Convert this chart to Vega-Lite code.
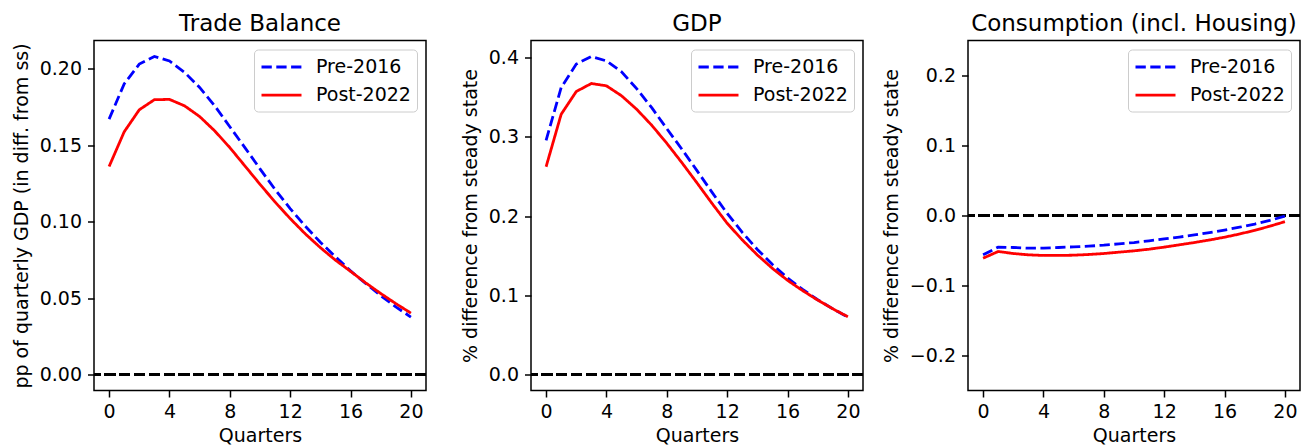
{
  "$schema": "https://vega.github.io/schema/vega-lite/v6.json",
  "padding": {"left": 12, "top": 11.5, "right": 0, "bottom": 0},
  "background": "white",
  "config": {
    "font": "DejaVu Sans",
    "view": {"stroke": "black", "strokeWidth": 1.5},
    "axis": {"domain": false, "grid": false, "labelFont": "DejaVu Sans", "labelFontSize": 19, "labelColor": "black", "titleFont": "DejaVu Sans", "titleFontSize": 19, "titleFontWeight": "normal", "titleColor": "black", "tickColor": "black", "tickWidth": 1.5, "tickSize": 6.5},
    "axisX": {"labelPadding": 5.4, "titlePadding": 4.8, "labelFlush": false, "labelOverlap": false},
    "axisY": {"labelPadding": 6, "titlePadding": 7.4, "labelOverlap": false},
    "title": {"font": "DejaVu Sans", "fontSize": 23, "fontWeight": "normal", "color": "black", "frame": "group", "baseline": "alphabetic", "offset": 4.8, "anchor": "middle"}
  },
  "datasets": {
    "tb": [
      {"q":0,"series":"Pre-2016","value":0.167},{"q":1,"series":"Pre-2016","value":0.190},{"q":2,"series":"Pre-2016","value":0.203},{"q":3,"series":"Pre-2016","value":0.208},{"q":4,"series":"Pre-2016","value":0.205},{"q":5,"series":"Pre-2016","value":0.1976},{"q":6,"series":"Pre-2016","value":0.1877},{"q":7,"series":"Pre-2016","value":0.1757},{"q":8,"series":"Pre-2016","value":0.162},{"q":9,"series":"Pre-2016","value":0.1484},{"q":10,"series":"Pre-2016","value":0.1345},{"q":11,"series":"Pre-2016","value":0.121},{"q":12,"series":"Pre-2016","value":0.1085},{"q":13,"series":"Pre-2016","value":0.097},{"q":14,"series":"Pre-2016","value":0.0865},{"q":15,"series":"Pre-2016","value":0.077},{"q":16,"series":"Pre-2016","value":0.0678},{"q":17,"series":"Pre-2016","value":0.0596},{"q":18,"series":"Pre-2016","value":0.0516},{"q":19,"series":"Pre-2016","value":0.0443},{"q":20,"series":"Pre-2016","value":0.0376},
      {"q":0,"series":"Post-2022","value":0.136},{"q":1,"series":"Post-2022","value":0.1587},{"q":2,"series":"Post-2022","value":0.1731},{"q":3,"series":"Post-2022","value":0.1797},{"q":4,"series":"Post-2022","value":0.1799},{"q":5,"series":"Post-2022","value":0.1757},{"q":6,"series":"Post-2022","value":0.1687},{"q":7,"series":"Post-2022","value":0.1593},{"q":8,"series":"Post-2022","value":0.1484},{"q":9,"series":"Post-2022","value":0.1364},{"q":10,"series":"Post-2022","value":0.1244},{"q":11,"series":"Post-2022","value":0.1128},{"q":12,"series":"Post-2022","value":0.102},{"q":13,"series":"Post-2022","value":0.092},{"q":14,"series":"Post-2022","value":0.083},{"q":15,"series":"Post-2022","value":0.0748},{"q":16,"series":"Post-2022","value":0.0675},{"q":17,"series":"Post-2022","value":0.06},{"q":18,"series":"Post-2022","value":0.053},{"q":19,"series":"Post-2022","value":0.0464},{"q":20,"series":"Post-2022","value":0.0402}
    ],
    "gdp": [
      {"q":0,"series":"Pre-2016","value":0.2958},{"q":1,"series":"Pre-2016","value":0.3624},{"q":2,"series":"Pre-2016","value":0.392},{"q":3,"series":"Pre-2016","value":0.4017},{"q":4,"series":"Pre-2016","value":0.396},{"q":5,"series":"Pre-2016","value":0.3823},{"q":6,"series":"Pre-2016","value":0.361},{"q":7,"series":"Pre-2016","value":0.337},{"q":8,"series":"Pre-2016","value":0.3105},{"q":9,"series":"Pre-2016","value":0.2845},{"q":10,"series":"Pre-2016","value":0.2575},{"q":11,"series":"Pre-2016","value":0.23},{"q":12,"series":"Pre-2016","value":0.2035},{"q":13,"series":"Pre-2016","value":0.1795},{"q":14,"series":"Pre-2016","value":0.158},{"q":15,"series":"Pre-2016","value":0.139},{"q":16,"series":"Pre-2016","value":0.122},{"q":17,"series":"Pre-2016","value":0.1075},{"q":18,"series":"Pre-2016","value":0.0945},{"q":19,"series":"Pre-2016","value":0.083},{"q":20,"series":"Pre-2016","value":0.0725},
      {"q":0,"series":"Post-2022","value":0.2624},{"q":1,"series":"Post-2022","value":0.3287},{"q":2,"series":"Post-2022","value":0.3574},{"q":3,"series":"Post-2022","value":0.3675},{"q":4,"series":"Post-2022","value":0.3646},{"q":5,"series":"Post-2022","value":0.352},{"q":6,"series":"Post-2022","value":0.335},{"q":7,"series":"Post-2022","value":0.3148},{"q":8,"series":"Post-2022","value":0.292},{"q":9,"series":"Post-2022","value":0.2675},{"q":10,"series":"Post-2022","value":0.242},{"q":11,"series":"Post-2022","value":0.216},{"q":12,"series":"Post-2022","value":0.191},{"q":13,"series":"Post-2022","value":0.17},{"q":14,"series":"Post-2022","value":0.151},{"q":15,"series":"Post-2022","value":0.134},{"q":16,"series":"Post-2022","value":0.119},{"q":17,"series":"Post-2022","value":0.106},{"q":18,"series":"Post-2022","value":0.094},{"q":19,"series":"Post-2022","value":0.083},{"q":20,"series":"Post-2022","value":0.073}
    ],
    "cons": [
      {"q":0,"series":"Pre-2016","value":-0.0562},{"q":1,"series":"Pre-2016","value":-0.0452},{"q":2,"series":"Pre-2016","value":-0.0457},{"q":3,"series":"Pre-2016","value":-0.0467},{"q":4,"series":"Pre-2016","value":-0.0467},{"q":5,"series":"Pre-2016","value":-0.0457},{"q":6,"series":"Pre-2016","value":-0.0448},{"q":7,"series":"Pre-2016","value":-0.0438},{"q":8,"series":"Pre-2016","value":-0.0424},{"q":9,"series":"Pre-2016","value":-0.0405},{"q":10,"series":"Pre-2016","value":-0.0386},{"q":11,"series":"Pre-2016","value":-0.0362},{"q":12,"series":"Pre-2016","value":-0.0335},{"q":13,"series":"Pre-2016","value":-0.0308},{"q":14,"series":"Pre-2016","value":-0.0278},{"q":15,"series":"Pre-2016","value":-0.0245},{"q":16,"series":"Pre-2016","value":-0.0208},{"q":17,"series":"Pre-2016","value":-0.0167},{"q":18,"series":"Pre-2016","value":-0.0122},{"q":19,"series":"Pre-2016","value":-0.007},{"q":20,"series":"Pre-2016","value":-0.001},
      {"q":0,"series":"Post-2022","value":-0.061},{"q":1,"series":"Post-2022","value":-0.0514},{"q":2,"series":"Post-2022","value":-0.0543},{"q":3,"series":"Post-2022","value":-0.0562},{"q":4,"series":"Post-2022","value":-0.0571},{"q":5,"series":"Post-2022","value":-0.0571},{"q":6,"series":"Post-2022","value":-0.0567},{"q":7,"series":"Post-2022","value":-0.0557},{"q":8,"series":"Post-2022","value":-0.0543},{"q":9,"series":"Post-2022","value":-0.0524},{"q":10,"series":"Post-2022","value":-0.0505},{"q":11,"series":"Post-2022","value":-0.0481},{"q":12,"series":"Post-2022","value":-0.0452},{"q":13,"series":"Post-2022","value":-0.0419},{"q":14,"series":"Post-2022","value":-0.0386},{"q":15,"series":"Post-2022","value":-0.035},{"q":16,"series":"Post-2022","value":-0.031},{"q":17,"series":"Post-2022","value":-0.0264},{"q":18,"series":"Post-2022","value":-0.0212},{"q":19,"series":"Post-2022","value":-0.0153},{"q":20,"series":"Post-2022","value":-0.0088}
    ]
  },
  "bounds": "flush",
  "spacing": 105,
  "resolve": {
    "scale": {"x": "independent", "y": "independent", "color": "independent", "strokeDash": "independent"},
    "legend": {"color": "independent", "strokeDash": "independent"}
  },
  "hconcat": [
    {
      "title": "Trade Balance",
      "width": 332, "height": 350,
      "data": {"name": "tb"},
      "layer": [
        {
          "mark": {"type": "rule", "color": "black", "strokeWidth": 2.8, "strokeDash": [10.3, 4.5]},
          "encoding": {"y": {"datum": 0, "type": "quantitative", "scale": {"domain": [-0.0104, 0.2184], "nice": false, "zero": false}, "axis": {"values": [0, 0.05, 0.1, 0.15, 0.2], "format": ".2f", "title": "pp of quarterly GDP (in diff. from ss)"}}}
        },
        {
          "mark": {"type": "line", "strokeWidth": 2.8},
          "encoding": {
            "x": {"field": "q", "type": "quantitative", "scale": {"domain": [-1, 21], "nice": false, "zero": false}, "axis": {"values": [0, 4, 8, 12, 16, 20], "title": "Quarters"}},
            "y": {"field": "value", "type": "quantitative", "scale": {"domain": [-0.0104, 0.2184], "nice": false, "zero": false}, "axis": {"values": [0, 0.05, 0.1, 0.15, 0.2], "format": ".2f", "title": "pp of quarterly GDP (in diff. from ss)"}},
            "color": {"field": "series", "type": "nominal", "scale": {"domain": ["Pre-2016", "Post-2022"], "range": ["#0000ff", "#ff0000"]},
              "legend": {"title": null, "orient": "top-right", "offset": 9, "symbolType": "M-1,0H3", "symbolSize": 400, "symbolStrokeWidth": 2.8, "labelOffset": 33, "labelFontSize": 19, "labelFont": "DejaVu Sans", "labelColor": "black", "padding": 6, "rowPadding": 6.2, "strokeColor": "#cccccc", "fillColor": "rgba(255,255,255,0.8)", "cornerRadius": 4}},
            "strokeDash": {"field": "series", "type": "nominal", "scale": {"domain": ["Pre-2016", "Post-2022"], "range": [[10.3, 4.5], [1, 0]]},
              "legend": {"title": null, "orient": "top-right", "offset": 9, "symbolType": "M-1,0H3", "symbolSize": 400, "symbolStrokeWidth": 2.8, "labelOffset": 33, "labelFontSize": 19, "labelFont": "DejaVu Sans", "labelColor": "black", "padding": 6, "rowPadding": 6.2, "strokeColor": "#cccccc", "fillColor": "rgba(255,255,255,0.8)", "cornerRadius": 4}}
          }
        }
      ]
    },
    {
      "title": "GDP",
      "width": 332, "height": 350,
      "data": {"name": "gdp"},
      "layer": [
        {
          "mark": {"type": "rule", "color": "black", "strokeWidth": 2.8, "strokeDash": [10.3, 4.5]},
          "encoding": {"y": {"datum": 0, "type": "quantitative", "scale": {"domain": [-0.0201, 0.4218], "nice": false, "zero": false}, "axis": {"values": [0, 0.1, 0.2, 0.3, 0.4], "format": ".1f", "title": "% difference from steady state"}}}
        },
        {
          "mark": {"type": "line", "strokeWidth": 2.8},
          "encoding": {
            "x": {"field": "q", "type": "quantitative", "scale": {"domain": [-1, 21], "nice": false, "zero": false}, "axis": {"values": [0, 4, 8, 12, 16, 20], "title": "Quarters"}},
            "y": {"field": "value", "type": "quantitative", "scale": {"domain": [-0.0201, 0.4218], "nice": false, "zero": false}, "axis": {"values": [0, 0.1, 0.2, 0.3, 0.4], "format": ".1f", "title": "% difference from steady state"}},
            "color": {"field": "series", "type": "nominal", "scale": {"domain": ["Pre-2016", "Post-2022"], "range": ["#0000ff", "#ff0000"]},
              "legend": {"title": null, "orient": "top-right", "offset": 9, "symbolType": "M-1,0H3", "symbolSize": 400, "symbolStrokeWidth": 2.8, "labelOffset": 33, "labelFontSize": 19, "labelFont": "DejaVu Sans", "labelColor": "black", "padding": 6, "rowPadding": 6.2, "strokeColor": "#cccccc", "fillColor": "rgba(255,255,255,0.8)", "cornerRadius": 4}},
            "strokeDash": {"field": "series", "type": "nominal", "scale": {"domain": ["Pre-2016", "Post-2022"], "range": [[10.3, 4.5], [1, 0]]},
              "legend": {"title": null, "orient": "top-right", "offset": 9, "symbolType": "M-1,0H3", "symbolSize": 400, "symbolStrokeWidth": 2.8, "labelOffset": 33, "labelFontSize": 19, "labelFont": "DejaVu Sans", "labelColor": "black", "padding": 6, "rowPadding": 6.2, "strokeColor": "#cccccc", "fillColor": "rgba(255,255,255,0.8)", "cornerRadius": 4}}
          }
        }
      ]
    },
    {
      "title": "Consumption (incl. Housing)",
      "width": 332, "height": 350,
      "data": {"name": "cons"},
      "layer": [
        {
          "mark": {"type": "rule", "color": "black", "strokeWidth": 2.8, "strokeDash": [10.3, 4.5]},
          "encoding": {"y": {"datum": 0, "type": "quantitative", "scale": {"domain": [-0.25, 0.25], "nice": false, "zero": false}, "axis": {"values": [-0.2, -0.1, 0, 0.1, 0.2], "format": ".1f", "title": "% difference from steady state"}}}
        },
        {
          "mark": {"type": "line", "strokeWidth": 2.8},
          "encoding": {
            "x": {"field": "q", "type": "quantitative", "scale": {"domain": [-1, 21], "nice": false, "zero": false}, "axis": {"values": [0, 4, 8, 12, 16, 20], "title": "Quarters"}},
            "y": {"field": "value", "type": "quantitative", "scale": {"domain": [-0.25, 0.25], "nice": false, "zero": false}, "axis": {"values": [-0.2, -0.1, 0, 0.1, 0.2], "format": ".1f", "title": "% difference from steady state"}},
            "color": {"field": "series", "type": "nominal", "scale": {"domain": ["Pre-2016", "Post-2022"], "range": ["#0000ff", "#ff0000"]},
              "legend": {"title": null, "orient": "top-right", "offset": 9, "symbolType": "M-1,0H3", "symbolSize": 400, "symbolStrokeWidth": 2.8, "labelOffset": 33, "labelFontSize": 19, "labelFont": "DejaVu Sans", "labelColor": "black", "padding": 6, "rowPadding": 6.2, "strokeColor": "#cccccc", "fillColor": "rgba(255,255,255,0.8)", "cornerRadius": 4}},
            "strokeDash": {"field": "series", "type": "nominal", "scale": {"domain": ["Pre-2016", "Post-2022"], "range": [[10.3, 4.5], [1, 0]]},
              "legend": {"title": null, "orient": "top-right", "offset": 9, "symbolType": "M-1,0H3", "symbolSize": 400, "symbolStrokeWidth": 2.8, "labelOffset": 33, "labelFontSize": 19, "labelFont": "DejaVu Sans", "labelColor": "black", "padding": 6, "rowPadding": 6.2, "strokeColor": "#cccccc", "fillColor": "rgba(255,255,255,0.8)", "cornerRadius": 4}}
          }
        }
      ]
    }
  ]
}
